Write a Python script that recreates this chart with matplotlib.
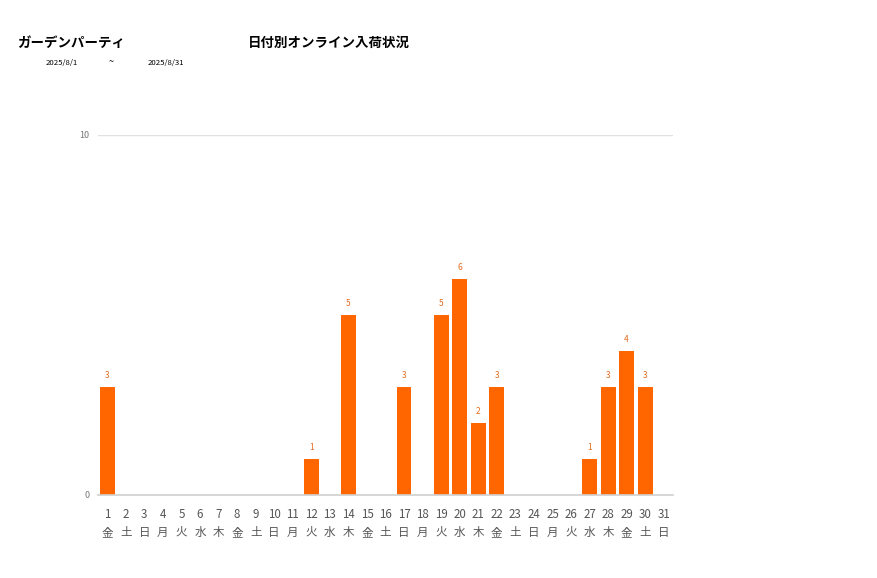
import matplotlib
matplotlib.use("Agg")
import matplotlib.pyplot as plt

plt.rcParams['font.family'] = ['Noto Sans CJK JP', 'DejaVu Sans']

DAYS = list(range(1, 32))
WEEKDAYS = ["金", "土", "日", "月", "火", "水", "木"] * 5
WEEKDAYS = WEEKDAYS[:31]
COUNTS = [3, 0, 0, 0, 0, 0, 0, 0, 0, 0, 0, 1, 0, 5, 0, 0, 3, 0, 5, 6,
          2, 3, 0, 0, 0, 0, 1, 3, 4, 3, 0]

BAR_COLOR = "#FF6600"

fig = plt.figure(figsize=(8.77, 5.78), dpi=100)
ax = fig.add_axes([98 / 877, 83 / 578, 575 / 877, 360 / 578])

x = list(range(len(DAYS)))
ax.bar(x, COUNTS, width=0.8, color=BAR_COLOR, zorder=3)
for xi, v in zip(x, COUNTS):
    if v > 0:
        ax.text(xi, v + 0.2, str(v), ha="center", va="bottom",
                fontsize=6, color="#E46A1A")

ax.set_xlim(-0.5, len(DAYS) - 0.5)
ax.set_ylim(0, 10)
ax.set_yticks([0, 10])
ax.set_yticklabels(["0", "10"], fontsize=6.5, color="#777777")
ax.axhline(10, color="#E0E0E0", lw=1, zorder=1)
ax.axhline(0, color="#D0D0D0", lw=1.2, zorder=4, clip_on=False)
ax.set_xticks(x)
ax.set_xticklabels([f"{d}\n{w}" for d, w in zip(DAYS, WEEKDAYS)],
                   fontsize=8.3, color="#555555", linespacing=1.55)
ax.tick_params(axis="x", length=0, pad=9)
ax.tick_params(axis="y", length=0, pad=6)
for s in ax.spines.values():
    s.set_visible(False)

fig.text(17 / 877, 1 - 43 / 578, "ガーデンパーティ", fontsize=9.7,
         fontweight="bold", va="center", ha="left")
fig.text(248 / 877, 1 - 43 / 578, "日付別オンライン入荷状況", fontsize=9.7,
         fontweight="bold", va="center", ha="left")
fig.text(46 / 877, 1 - 63 / 578, "2025/8/1", fontsize=5.6, va="center")
fig.text(109 / 877, 1 - 62 / 578, "~", fontsize=6.5, va="center")
fig.text(148 / 877, 1 - 63 / 578, "2025/8/31", fontsize=5.6, va="center")

fig.savefig("out.png", dpi=100)
